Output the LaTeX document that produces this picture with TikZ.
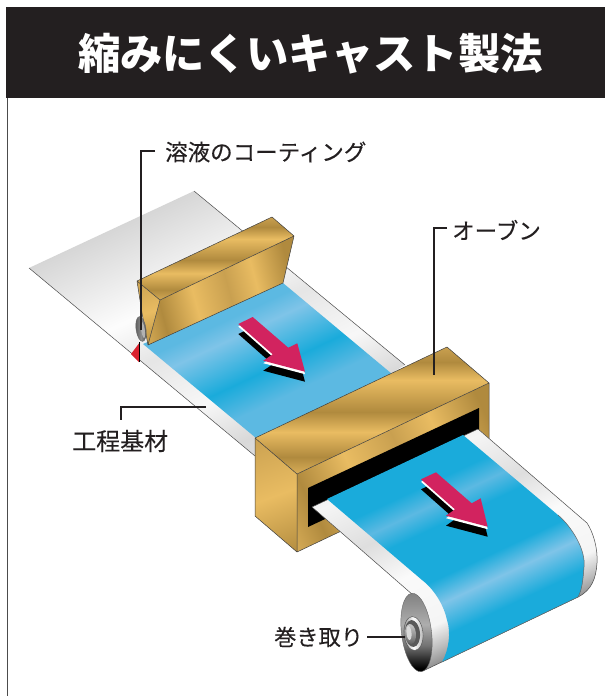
\documentclass[tikz,border=0pt]{standalone}
\usepackage{fontspec}
\setmainfont{Noto Sans CJK JP}
\newfontfamily\labelfont[FakeBold=0.25]{Noto Sans CJK JP}
\definecolor{hdr}{HTML}{231F20}
\definecolor{crim}{HTML}{D2235F}
\definecolor{redtri}{HTML}{D9222F}
\definecolor{bA}{HTML}{1AABDB}
\definecolor{bB}{HTML}{7FC4E8}
\definecolor{bC}{HTML}{5CB9E2}
\definecolor{bD}{HTML}{45B3E0}
\definecolor{gL}{HTML}{E9BC62}
\definecolor{gD}{HTML}{B08A3E}
\definecolor{gM}{HTML}{C9A050}
\definecolor{gN}{HTML}{D9AE58}
\pgfdeclarehorizontalshading{bluebands}{100bp}{color(0bp)=(bA);color(25bp)=(bA);color(38bp)=(bC);color(40.5bp)=(bC);color(42.1bp)=(bB);color(45.7bp)=(bA);color(48.3bp)=(bC);color(52bp)=(bC);color(57bp)=(bA);color(60bp)=(bA);color(61.75bp)=(bC);color(63.5bp)=(bA);color(67.5bp)=(bA);color(69.5bp)=(bB);color(72bp)=(bA);color(100bp)=(bA)}
\pgfdeclarehorizontalshading{graybands}{100bp}{color(0bp)=(white!84!black);color(29.6bp)=(white!84!black);color(37.1bp)=(white!99!black);color(40.9bp)=(white!90!black);color(46.1bp)=(white!97!black);color(50.25bp)=(white!85!black);color(55bp)=(white!91!black);color(58.1bp)=(white!96!black);color(62.5bp)=(white!87!black);color(66.25bp)=(white!98!black);color(70.9bp)=(white!96!black);color(72.7bp)=(white!74!black);color(74.2bp)=(white!53!black);color(100bp)=(white!53!black)}
\pgfdeclarehorizontalshading{goldtop}{100bp}{color(0bp)=(gM);color(27.5bp)=(gM);color(32.9bp)=(gD);color(39.3bp)=(gL);color(50.7bp)=(gD);color(57.9bp)=(gL);color(66.8bp)=(gD);color(72.9bp)=(gN);color(100bp)=(gN)}
\pgfdeclarehorizontalshading{goldface}{100bp}{color(0bp)=(gN);color(25bp)=(gN);color(32bp)=(gD);color(42bp)=(gL);color(52bp)=(gM);color(60bp)=(gL);color(70bp)=(gD);color(100bp)=(gD)}
\pgfdeclarehorizontalshading{goldside}{100bp}{color(0bp)=(gM);color(25bp)=(gM);color(50bp)=(gL);color(75bp)=(gD);color(100bp)=(gD)}
\pgfdeclarehorizontalshading{rollend}{100bp}{color(0bp)=(white!50!black);color(25bp)=(white!50!black);color(45bp)=(white!68!black);color(58bp)=(white!45!black);color(72bp)=(black);color(100bp)=(black)}
\pgfdeclarehorizontalshading{hubrim}{100bp}{color(0bp)=(white!55!black);color(25bp)=(white!55!black);color(50bp)=(white);color(75bp)=(white!70!black);color(100bp)=(white!70!black)}
\pgfdeclarehorizontalshading{hubbolt}{100bp}{color(0bp)=(white!80!black);color(25bp)=(white!80!black);color(55bp)=(white!55!black);color(75bp)=(white!35!black);color(100bp)=(white!35!black)}
\pgfdeclarehorizontalshading{coatroll}{100bp}{color(0bp)=(white!25!black);color(25bp)=(white!25!black);color(50bp)=(white!55!black);color(75bp)=(white!15!black);color(100bp)=(white!15!black)}
\newcommand\bandfill[6]{%
  \begin{scope}
    \clip #6;
    \pgfmathsetmacro\bfang{atan2(#3-#5,#4-#2)}
    \pgfmathsetmacro\bflen{veclen(#4-#2,#5-#3)}
    \begin{scope}[transform canvas={shift={(#2,#3)},rotate=\bfang}]
      \shade[shading=#1] (0,-1200) rectangle (\bflen,1200);
    \end{scope}
  \end{scope}}
\tikzset{
  edgeline/.style={draw=black!70,line width=0.5pt,line join=round},
  leader/.style={draw=hdr,line width=1.1pt},
  callout/.style={text=hdr,anchor=west,inner sep=0pt,font=\labelfont\fontsize{22.5}{24}\selectfont},
}
\def\pathSheet{(29,268) -- (194,191) -- (405,365) -- (255,456) -- cycle}
\def\pathBlueA{(143,344) -- (283,283) -- (392,374) -- (256,438) -- cycle}
\def\pathBelt{(312,507) -- (478,429) -- (587,523) .. controls (593,532) and (598,548) .. (597,563) .. controls (596,578) and (592,590) .. (578,597) -- (425,670) -- (418,650) -- (413,595) -- cycle}
\def\pathBlueB{(327,499) -- (463,435) -- (558,515) .. controls (572,527) and (586,550) .. (584,567) .. controls (583,580) and (582,590) .. (578,597) -- (442,662) .. controls (449,650) and (451,632) .. (447,620) .. controls (444,606) and (435,590) .. (422,580) -- cycle}
\def\arrowA{(238.3,324) -- (252.7,317) -- (288.3,347.7) -- (297.3,343.3) -- (305,371.7) -- (263.3,360.7) -- (272.7,354.3) -- cycle}
\def\arrowB{(421,479.3) -- (436,472.3) -- (471.7,503.3) -- (480.7,498.3) -- (487.7,526.7) -- (446,515.7) -- (455,509.3) -- cycle}
\begin{document}
\begin{tikzpicture}[x=1pt,y=-1pt]
\useasboundingbox (0,0) rectangle (605,696);
\fill[white] (0,0) rectangle (605,696);
% frame and title bar
\draw[draw=black!70,line width=0.8pt] (7,98) -- (7,696);
\fill[hdr] (6,7) rectangle (605,98);
\node[text=white,inner sep=0pt,font=\fontsize{42.3}{46}\selectfont\bfseries] (title) at (310.5,54) {縮みにくいキャスト製法};
% base sheet
\bandfill{graybands}{85}{181}{340}{724}{\pathSheet}
\draw[edgeline] (194,191) -- (405,365);
\draw[edgeline] (29,268) -- (255,456);
% blue coating
\bandfill{bluebands}{85}{181}{340}{724}{\pathBlueA}
% coater block
\bandfill{goldtop}{0}{212.5}{0}{305}{(137,281) -- (272,217) -- (294,236) -- (160,300) -- cycle}
\bandfill{goldface}{135}{308}{305}{262}{(160,300) -- (294,236) -- (283,283) -- (148,345) -- cycle}
\bandfill{goldside}{136}{278}{156}{348}{(137,281) -- (160,300) -- (148,345) -- (142,313) -- cycle}
\draw[edgeline,draw=black!75] (137,281) -- (272,217) -- (294,236) -- (283,283) -- (148,345) -- (142,313) -- cycle (137,281) -- (160,300) -- (294,236) (160,300) -- (148,345);
% coating head
\fill[redtri] (140,342) -- (131,354) -- (139,362) -- cycle;
\draw[black,line width=0.5pt] (139.5,342) -- (139.5,362);
\bandfill{coatroll}{132}{329}{150}{329}{(141,329) circle [x radius=5pt,y radius=12.5pt,rotate=8]}
\draw[black!60,line width=0.4pt] (141,329) circle [x radius=5pt,y radius=12.5pt,rotate=8];
\fill[white!70!black] (143,330) circle [x radius=1.8pt,y radius=8pt,rotate=8];
% upper arrow
\fill[black,shift={(0,10)}] \arrowA;
\fill[white,shift={(0,2.5)}] \arrowA;
\fill[crim] \arrowA;
% oven
\bandfill{goldside}{254}{435}{298}{556}{(255,438) -- (297,474) -- (297,552) -- (255,516) -- cycle}
\bandfill{goldface}{280}{524}{512}{410}{(297,474) -- (489,383) -- (489,461) -- (297,552) -- cycle}
\bandfill{goldtop}{0}{340}{0}{480}{(255,438) -- (447,347) -- (489,383) -- (297,474) -- cycle}
\draw[edgeline,draw=black!75] (255,438) -- (447,347) -- (489,383) -- (489,461) -- (297,552) -- (255,516) -- cycle (255,438) -- (297,474) -- (489,383) (297,474) -- (297,552);
\fill[black] (308,488) -- (479,408) -- (479,447) -- (308,527) -- cycle;
% exit belt
\bandfill{graybands}{85}{181}{340}{724}{\pathBelt}
\draw[edgeline] \pathBelt;
\bandfill{bluebands}{85}{181}{340}{724}{\pathBlueB}
\draw[edgeline,draw=black!60] (558,515) .. controls (572,527) and (586,550) .. (584,567) .. controls (583,580) and (582,590) .. (578,597) -- (442,662);
% lower arrow
\fill[black,shift={(0,10)}] \arrowB;
\fill[white,shift={(0,2.5)}] \arrowB;
\fill[crim] \arrowB;
% take-up roller end
\bandfill{rollend}{0}{592}{0}{673}{(416.5,632.5) circle [x radius=15pt,y radius=39.5pt,rotate=7]}
\draw[draw=black!60,line width=0.4pt] (416.5,632.5) circle [x radius=15pt,y radius=39.5pt,rotate=7];
\bandfill{hubrim}{403}{633}{424}{633}{(413.5,633.5) circle [x radius=9.5pt,y radius=17pt,rotate=5]}
\draw[black!70,line width=0.4pt] (413.5,633.5) circle [x radius=9.5pt,y radius=17pt,rotate=5];
\fill[black!65] (412.5,633.5) circle [x radius=7.5pt,y radius=13.5pt,rotate=5];
\bandfill{hubbolt}{0}{623}{0}{645}{(410.5,634) circle [x radius=5.5pt,y radius=10pt,rotate=5]}
\fill[white!85!black] (409,633) circle [x radius=2.5pt,y radius=7pt,rotate=5];
% labels
\node[callout] (lcoat) at (165,152) {溶液のコーティング};
\node[callout] (loven) at (452,230) {オーブン};
\node[callout,font=\labelfont\fontsize{24}{26}\selectfont] (lbase) at (72,441) {工程基材};
\node[callout,font=\labelfont\fontsize{22.2}{24}\selectfont] (lroll) at (274,637) {巻き取り};
% leaders
\coordinate (coatA) at (155,151);
\coordinate (coatB) at (141,151);
\coordinate (coatC) at (141,330);
\coordinate (ovenA) at (447,228);
\coordinate (ovenB) at (434,228);
\coordinate (ovenC) at (434,375);
\coordinate (baseA) at (206,407);
\coordinate (baseB) at (121,407);
\coordinate (baseC) at (121,420);
\coordinate (rollA) at (367,637);
\coordinate (rollB) at (405,637);
\draw[leader] (coatA) -- (coatB) -- (coatC);
\draw[leader] (ovenA) -- (ovenB) -- (ovenC);
\draw[leader] (baseA) -- (baseB) -- (baseC);
\draw[leader] (rollA) -- (rollB);
\end{tikzpicture}
\end{document}
